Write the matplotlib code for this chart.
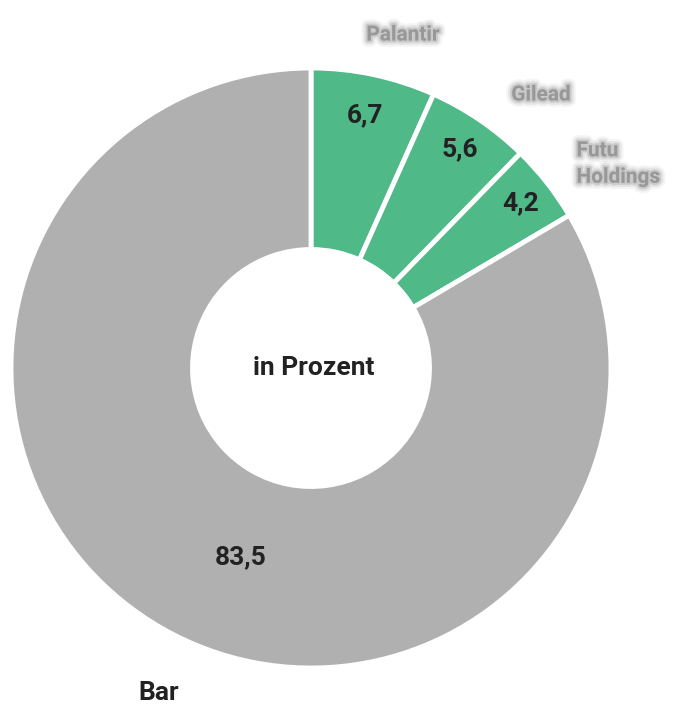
import matplotlib
matplotlib.use("Agg")
import matplotlib.pyplot as plt
import matplotlib.patheffects as pe
import numpy as np

categories = ["Palantir", "Gilead", "Futu\nHoldings", "Bar"]
values = [6.7, 5.6, 4.2, 83.5]
value_labels = ["6,7", "5,6", "4,2", "83,5"]
colors = ["#4fb987", "#4fb987", "#4fb987", "#b0b0b0"]
center_label = "in Prozent"

plt.rcParams['font.family'] = ['Roboto', 'DejaVu Sans']

fig = plt.figure(figsize=(6.93, 7.06), dpi=100)
ax = fig.add_axes([11/693, 38/706, 600/693, 600/706])
wedges, _ = ax.pie(values, colors=colors, startangle=90, counterclock=False,
                   radius=1.0, wedgeprops=dict(width=0.605, edgecolor="white", linewidth=3.5))
ax.set_xlim(-1, 1)
ax.set_ylim(-1, 1)
ax.set_aspect("equal")
ax.axis("off")

cum = np.cumsum([0] + values[:-1])
radii = [0.86, 0.88, 0.89]
for i in range(3):
    frac = (cum[i] + values[i] / 2) / 100
    ang = np.deg2rad(90 - 360 * frac)
    ax.text(radii[i] * np.cos(ang), radii[i] * np.sin(ang), value_labels[i],
            ha="center", va="center", fontsize=19, fontweight="bold", color="#222222")
ax.text(-0.233, -0.63, value_labels[3], ha="center", va="center",
        fontsize=19, fontweight="bold", color="#222222")

ax.text(0.01, 0.0, center_label, ha="center", va="center", fontsize=19,
        fontweight="bold", color="#222222")

# outer category labels (blurred in the reference) - soft halo to mimic blur
soft = [pe.Stroke(linewidth=9, foreground="#b0b0b0", alpha=0.12),
        pe.Stroke(linewidth=6, foreground="#a0a0a0", alpha=0.2),
        pe.Stroke(linewidth=3, foreground="#909090", alpha=0.3),
        pe.Normal()]
lab_kw = dict(va="center", fontsize=15, fontweight="bold", color="#8c8c8c",
              alpha=0.6, clip_on=False, linespacing=1.5, path_effects=soft)
ax.text(0.307, 1.11, categories[0], ha="center", **lab_kw)
ax.text(0.767, 0.91, categories[1], ha="center", **lab_kw)
ax.text(0.885, 0.68, categories[2], ha="left", **lab_kw)
ax.text(-0.577, -1.083, categories[3], ha="left", va="center", fontsize=19,
        fontweight="bold", color="#222222", clip_on=False)

fig.savefig("out.png", dpi=100)
